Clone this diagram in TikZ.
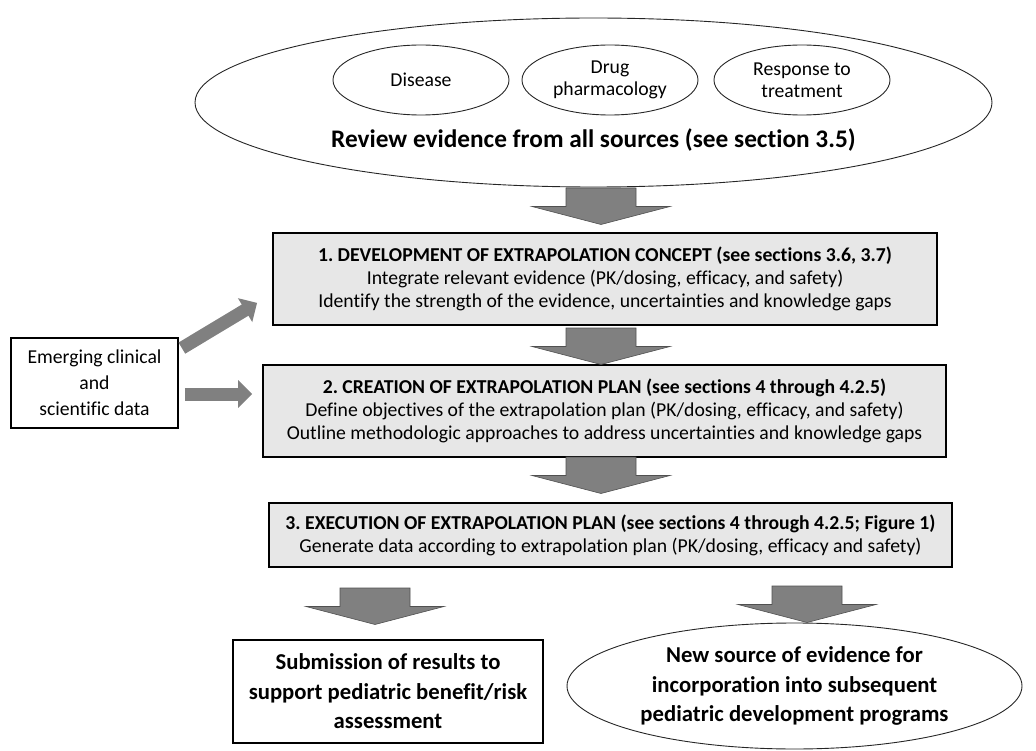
\documentclass[tikz,border=0pt]{standalone}
\usepackage{fontspec}
\setmainfont{Carlito}[Ligatures=NoCommon]
\usetikzlibrary{shapes.geometric,arrows.meta,calc}
\definecolor{boxgray}{RGB}{231,231,231}
\definecolor{arrowgray}{RGB}{128,128,128}
\definecolor{arrowedge}{RGB}{80,80,80}
\frenchspacing
\begin{document}
\begin{tikzpicture}[x=1pt,y=-1pt,
  oval/.style={ellipse, draw=black!85, line width=0.9pt, inner sep=0pt, align=center},
  stepbox/.style={rectangle, draw=black, line width=1.8pt, fill=boxgray, inner sep=0pt, align=center},
  plainbox/.style={rectangle, draw=black, line width=1.8pt, fill=white, inner sep=0pt, align=center},
  reg/.style={font=\fontsize{19.7}{23}\selectfont},
  big/.style={font=\fontsize{22.7}{29.5}\selectfont\bfseries},
  barrow/.style={fill=arrowgray, draw=arrowedge, line width=0.6pt, line join=miter},
  fatarrow/.style={draw=arrowgray, line width=13pt, -{Triangle[length=14pt,width=27pt]}},
  darrow/.pic={\draw[barrow] (-35,0) -- (35,0) -- (35,18.5) -- (69,18.5) -- (0,36.5) -- (-69,18.5) -- (-35,18.5) -- cycle;}
]
\useasboundingbox (0,0) rectangle (1036,751);

% top evidence ellipse
\node[oval, minimum width=797pt, minimum height=169pt] (review) at (593.5,102.5) {};
\node[oval, minimum width=176pt, minimum height=70pt, font=\fontsize{19.7}{22}\selectfont] (disease) at (421,80) {Disease};
\node[oval, minimum width=176pt, minimum height=70pt, font=\fontsize{19.7}{22}\selectfont] (drug) at (610,80) {Drug\\pharmacology};
\node[oval, minimum width=176pt, minimum height=70pt, font=\fontsize{19.7}{22}\selectfont] (response) at (802,80) {Response to\\treatment};
\node[font=\fontsize{25.3}{30}\selectfont\bfseries, inner sep=0pt] (title) at (593.5,140) {Review evidence from all sources (see section 3.5)};

% step boxes
\node[stepbox, reg, minimum width=664pt, minimum height=92pt] (b1) at (605,279)
  {\textbf{1. DEVELOPMENT OF EXTRAPOLATION CONCEPT (see sections 3.6, 3.7)}\\
   Integrate relevant evidence (PK/dosing, efficacy, and safety)\\
   Identify the strength of the evidence, uncertainties and knowledge gaps};
\node[stepbox, reg, minimum width=683pt, minimum height=92pt] (b2) at (604.5,411)
  {\textbf{2. CREATION OF EXTRAPOLATION PLAN (see sections 4 through 4.2.5)}\\
   Define objectives of the extrapolation plan (PK/dosing, efficacy, and safety)\\
   Outline methodologic approaches to address uncertainties and knowledge gaps};
\node[stepbox, reg, minimum width=683pt, minimum height=64pt] (b3) at (610.5,535)
  {\textbf{3. EXECUTION OF EXTRAPOLATION PLAN (see sections 4 through 4.2.5; Figure 1)}\\
   Generate data according to extrapolation plan (PK/dosing, efficacy and safety)};

% emerging data box
\node[plainbox, font=\fontsize{19.7}{26}\selectfont, minimum width=167pt, minimum height=90pt] (emerg) at (94.5,383)
  {Emerging clinical\\and\\scientific data};

% outcomes
\node[plainbox, big, minimum width=310pt, minimum height=103pt] (submit) at (388,691.5)
  {Submission of results to\\support pediatric benefit/risk\\assessment};
\node[oval, big, minimum width=455pt, minimum height=126pt] (newsrc) at (794.5,686)
  {New source of evidence for\\incorporation into subsequent\\pediatric development programs};

% block arrows
\pic at (601,188) {darrow};
\pic at (601,328) {darrow};
\pic at (601,457) {darrow};
\pic at (375,588) {darrow};
\pic at (807,586) {darrow};

% arrows from emerging data
\draw[fatarrow] ($(emerg.north east)+(3,11)$) -- ($(b1.south west)+(-15,-23)$);
\draw[fatarrow] ($(emerg.east)+(6,11)$) -- ($(b2.west)+(-10,-17)$);
\end{tikzpicture}
\end{document}
